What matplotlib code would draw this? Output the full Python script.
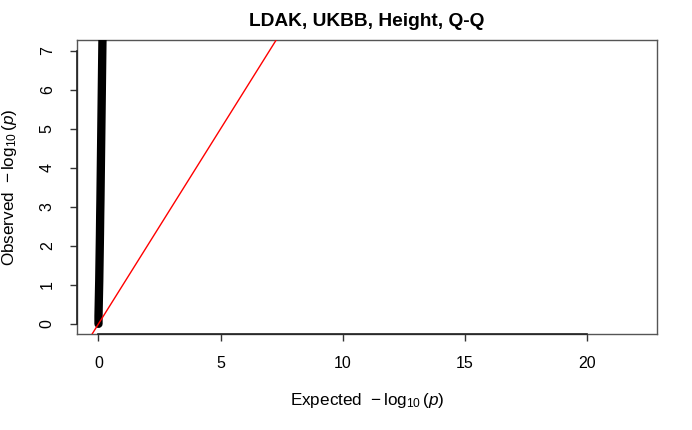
import numpy as np
import matplotlib
matplotlib.use("Agg")
import matplotlib.pyplot as plt

plt.rcParams['font.family'] = ['Liberation Sans', 'DejaVu Sans']
plt.rcParams['mathtext.fontset'] = 'custom'
plt.rcParams['mathtext.rm'] = 'Liberation Sans'
plt.rcParams['mathtext.it'] = 'Liberation Sans:italic'

# Q-Q points (expected vs observed -log10 p)
expected = [0.00, 0.00, 0.01, 0.02, 0.03, 0.04, 0.05, 0.06, 0.07, 0.08,
            0.09, 0.10, 0.11, 0.12, 0.13, 0.14, 0.15, 0.16, 0.17]
observed = [0.00, 0.20, 0.50, 0.80, 1.10, 1.50, 1.90, 2.30, 2.80, 3.20,
            3.70, 4.20, 4.70, 5.20, 5.70, 6.20, 6.70, 7.20, 7.60]

xticks = [0, 5, 10, 15, 20]
yticks = [0, 1, 2, 3, 4, 5, 6, 7]

fig = plt.figure(figsize=(6.92, 4.30), dpi=100)
ax = fig.add_axes([0.1113, 0.2233, 0.8381, 0.6837])

ax.plot(expected, observed, color='black', lw=6, solid_capstyle='round',
        solid_joinstyle='round', zorder=3)
ax.axline((0, 0), slope=1, color='red', lw=1, zorder=4)

ax.set_xlim(-0.88, 22.88)
ax.set_ylim(-0.26, 7.28)

ax.set_xticks(xticks)
ax.set_yticks(yticks)
ax.tick_params(direction='out', length=5, width=1, color='#333333',
               labelsize=11.5, pad=11)
plt.setp(ax.get_yticklabels(), rotation=90, va='center')

for s in ax.spines.values():
    s.set_color('#555555')
    s.set_linewidth(1)

# R-style axis lines from first to last tick
ax.plot([xticks[0], xticks[-1]], [-0.26, -0.26], color='#222222', lw=1.2,
        clip_on=False, zorder=5)
ax.plot([-0.88, -0.88], [yticks[0], yticks[-1]], color='#222222', lw=1.2,
        clip_on=False, zorder=5)

ax.set_xlabel(r"Expected  $-\,\log_{10}(p)$", fontsize=12.3, labelpad=14)
ax.set_ylabel(r"Observed  $-\,\log_{10}(p)$", fontsize=12.3, labelpad=15)
ax.set_title("LDAK, UKBB, Height, Q-Q", fontsize=13.8, fontweight='bold', pad=10)

fig.savefig("out.png", dpi=100)
